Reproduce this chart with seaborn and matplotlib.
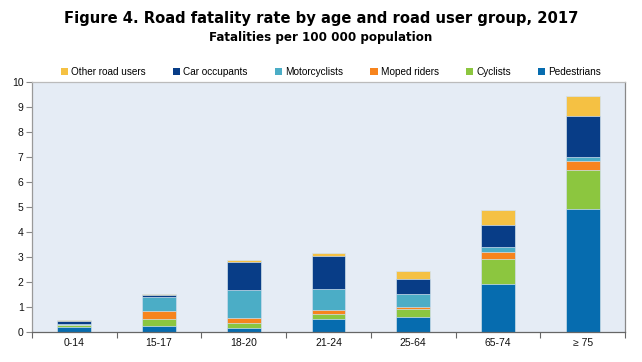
import matplotlib
matplotlib.use("Agg")
import matplotlib.pyplot as plt
from matplotlib.patches import Patch
import seaborn as sns
import pandas as pd
import numpy as np

ages = ["0-14", "15-17", "18-20", "21-24", "25-64", "65-74", "\u2265 75"]
pedestrians   = [0.19, 0.25, 0.16, 0.53, 0.61, 1.94, 4.92]
cyclists      = [0.09, 0.28, 0.21, 0.20, 0.31, 0.98, 1.57]
moped_riders  = [0.02, 0.31, 0.19, 0.17, 0.10, 0.30, 0.37]
motorcyclists = [0.02, 0.56, 1.12, 0.84, 0.52, 0.18, 0.13]
car_occupants = [0.13, 0.10, 1.13, 1.30, 0.58, 0.88, 1.66]
other_users   = [0.03, 0.04, 0.09, 0.13, 0.32, 0.60, 0.80]

groups = ["Pedestrians", "Cyclists", "Moped riders", "Motorcyclists",
          "Car occupants", "Other road users"]
series = [pedestrians, cyclists, moped_riders, motorcyclists, car_occupants, other_users]
colors = ["#066caf", "#8cc63f", "#f7841d", "#4badc6", "#083d87", "#f5c143"]

sns.set_theme(style="white")
plt.rcParams["font.family"] = ["Liberation Sans", "DejaVu Sans"]
plt.rcParams["text.color"] = "black"

rows = []
for g, vals in zip(groups, series):
    for a, v in zip(ages, vals):
        rows.append({"age": a, "group": g, "value": v})
df = pd.DataFrame(rows)
df["cum"] = df.groupby("age", sort=False)["value"].cumsum()

fig = plt.figure(figsize=(6.42, 3.62), dpi=100)
ax = fig.add_axes([32/642, 1-332/362, (625-32)/642, (332-82)/362])
ax.set_facecolor("#e5ecf5")

for g, c in reversed(list(zip(groups, colors))):
    sub = df[df["group"] == g]
    sns.barplot(data=sub, x="age", y="cum", color=c, width=0.4, ax=ax,
                order=ages, saturation=1, edgecolor="#d3e2f0", linewidth=0.5,
                errorbar=None)

ax.set_ylim(0, 10)
ax.set_xlim(-0.5, 6.5)
ax.set_yticks(range(0, 11))
ax.set_xlabel("")
ax.set_ylabel("")
ax.tick_params(axis="y", labelsize=7.5, length=4, width=0.8, color="#888888",
               direction="out", left=True, pad=2, labelcolor="#111111")
ax.tick_params(axis="x", which="major", labelsize=7.5, length=0, pad=4,
               labelcolor="#111111")
ax.set_xticks(np.arange(-0.5, 7.0, 1.0), minor=True)
ax.tick_params(axis="x", which="minor", length=4, width=0.8, color="#666666",
               direction="out", bottom=True)
for side, col in [("left", "#999999"), ("bottom", "#666666"),
                  ("right", "#888888"), ("top", "#bbbbbb")]:
    ax.spines[side].set_visible(True)
    ax.spines[side].set_color(col)
    ax.spines[side].set_linewidth(0.9)

handles = [Patch(facecolor=c, edgecolor="none", label=g)
           for g, c in reversed(list(zip(groups, colors)))]
leg = fig.legend(handles=handles, loc="center", bbox_to_anchor=(331/642, 1-72/362),
                 ncol=6, frameon=False, fontsize=7.2, handlelength=0.75,
                 handleheight=0.75, handletextpad=0.3, columnspacing=2.7,
                 borderaxespad=0)

fig.text(0.5, 1-19/362, "Figure 4. Road fatality rate by age and road user group, 2017",
         ha="center", va="center", fontsize=10.6, fontweight="bold",
         family="DejaVu Sans", color="black")
fig.text(0.5, 1-38/362, "Fatalities per 100 000 population",
         ha="center", va="center", fontsize=8.6, fontweight="bold",
         family="DejaVu Sans", color="black")

fig.savefig("out.png", dpi=100, facecolor="white")
